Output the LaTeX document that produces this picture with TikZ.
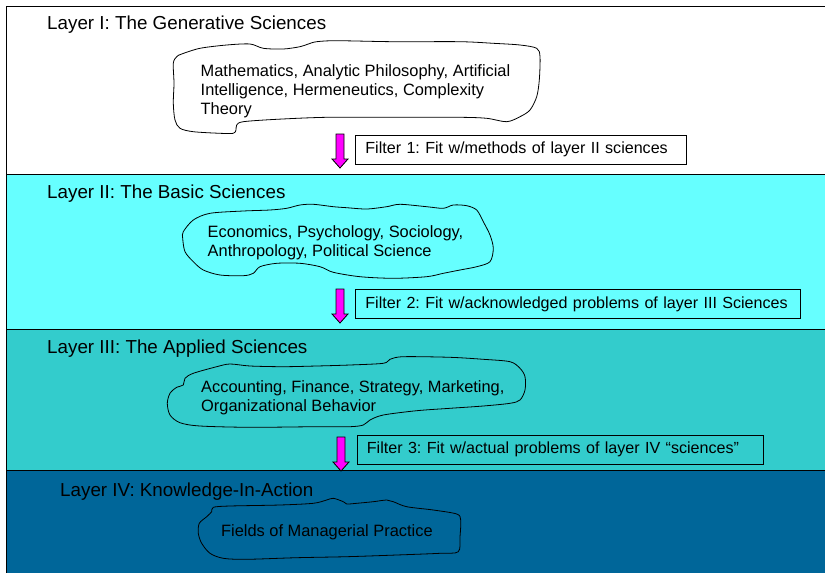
\documentclass[tikz,border=0pt]{standalone}
\usepackage{fontspec}
\setmainfont{Liberation Sans}
\frenchspacing
\definecolor{layerII}{HTML}{66FFFF}
\definecolor{layerIII}{HTML}{33CCCC}
\definecolor{layerIV}{HTML}{006699}
\definecolor{filtermag}{HTML}{FF00FF}
\begin{document}
\begin{tikzpicture}[x=1pt,y=-1pt,
  layer/.style={draw=black, line width=1pt},
  title/.style={anchor=base west, inner sep=0pt, font=\fontsize{18.8}{22}\selectfont},
  blobtext/.style={anchor=base west, inner sep=0pt, align=left, font=\fontsize{16.4}{19}\selectfont},
  filterbox/.style={draw=black, line width=0.8pt, anchor=north west, inner xsep=10pt, inner ysep=0pt,
    minimum height=29pt, align=left, font=\fontsize{16.1}{19}\selectfont},
  blob/.style={draw=black, line width=0.8pt, line join=round},
  pics/downarrow/.style={code={
    \filldraw[fill=filtermag, draw=black, line width=0.8pt, line join=miter]
      (-4,0) -- (4,0) -- (4,25) -- (8,25) -- (0,34) -- (-8,25) -- (-4,25) -- cycle;}}
]
\useasboundingbox (0,0) rectangle (825,573);
\clip (0,0) rectangle (825,573);

% the four layers, stacked top to bottom
\fill[white]    (6,6)   rectangle (840,174);
\fill[layerII]  (6,174) rectangle (840,329);
\fill[layerIII] (6,329) rectangle (840,470);
\fill[layerIV]  (6,470) rectangle (840,590);
\draw[layer] (6,590) -- (6,6) -- (840,6);
\draw[layer] (6,174) -- (840,174);
\draw[layer] (6,329) -- (840,329);
\draw[layer] (6,470) -- (840,470);

% layer titles
\node[title] (t1) at (47,29)  {Layer I: The Generative Sciences};
\node[title] (t2) at (47,198) {Layer II: The Basic Sciences};
\node[title] (t3) at (47,353) {Layer III: The Applied Sciences};
\node[title] (t4) at (60,496) {Layer IV: Knowledge-In-Action};

% hand-drawn outlines around each group of disciplines
\draw[blob] plot[smooth cycle, tension=0.5] coordinates {
  (176.7,56.7) (181.7,54) (200,48.3) (226.7,45) (250,44) (263.3,48.3) (283.3,49)
  (300,46.7) (308.3,44) (316.7,41.7) (336.7,40.7) (393.3,41.7) (460,41.7)
  (493.3,43.3) (520,45) (536.7,48.3) (540,56.7) (539.3,80) (536.7,96.7) (530,110)
  (520,116.7) (506.7,121.7) (486.7,118.3) (460,117.3) (393.3,117.3) (326.7,117.3)
  (276.7,119.3) (243.3,121.7) (236.7,125) (236,130) (233.3,133.3) (220,133.3)
  (193.3,131.7) (180,128.3) (175,120) (173.3,103.3) (174,83.3) (173.3,63.3)};
\draw[blob] plot[smooth cycle, tension=0.5] coordinates {
  (183.3,231.7) (193.3,220) (210,213.3) (243.3,211) (270,210) (286.7,208.3)
  (300,205) (313.3,204.3) (333.3,206.7) (346.7,207.7) (366.7,209) (386.7,206.7)
  (400,204.3) (426.7,206.7) (443.3,208.3) (453.3,205) (466.7,205.7) (476.7,210)
  (483.3,221.7) (490,235) (493.3,248.3) (490,261.7) (476.7,266.7) (460,270)
  (443.3,273.3) (426.7,276.7) (393.3,278.3) (360,276.7) (333.3,272.3) (320,266.7)
  (300,263.3) (276.7,263.3) (260,266.7) (253.3,273.3) (243.3,275.7) (220,275)
  (203.3,270) (193.3,261.7) (185,251.7) (182.7,238.3)};
\draw[blob] plot[smooth cycle, tension=0.5] coordinates {
  (183.3,385) (185,378.3) (193.3,373.3) (216.7,366.7) (230,364) (250,366)
  (283.3,366.7) (316.7,366) (350,365) (383.3,363.3) (390,359.3) (403.3,356.7)
  (450,357.3) (483.3,359.3) (510,361.7) (520,368.3) (525,376.7) (525,390)
  (520,400) (510,403.3) (483.3,406) (450,408.3) (416.7,410.7) (383.3,415)
  (370,420) (363.3,425) (350,426.7) (316.7,426.7) (250,427.3) (200,426)
  (180,422.7) (170,415) (167.3,403.3) (170,393.3) (176.7,387.3)};
\draw[blob] plot[smooth cycle, tension=0.5] coordinates {
  (213.3,507.3) (230,506) (280,505) (313.3,503.3) (326.7,500) (333.3,498.3)
  (343.3,501.7) (346.7,504) (356.7,503.3) (373.3,501.7) (386.7,500) (393.3,501.7)
  (406.7,506.7) (433.3,510) (456.7,514) (460.7,520) (460,536.7) (458.3,551.7)
  (440,553.3) (396.7,555) (346.7,556.7) (296.7,557.7) (246.7,559.3) (223.3,558.3)
  (210,553.3) (201.7,543.3) (198.3,533.3) (199.3,523.3) (206.7,516.7) (211.7,511.7)};

% disciplines in each layer (placed by the baseline of the last line)
\node[blobtext] (d1) at (200.5,114) {Mathematics, Analytic Philosophy, Artificial\\
  Intelligence, Hermeneutics, Complexity\\ Theory};
\node[blobtext] (d2) at (207.5,256) {Economics, Psychology, Sociology,\\
  Anthropology, Political Science};
\node[blobtext] (d3) at (201,411.5) {Accounting, Finance, Strategy, Marketing,\\
  Organizational Behavior};
\node[blobtext] (d4) at (221,536.5) {Fields of Managerial Practice};

% filters between the layers
\node[filterbox, fill=white,    text width=311pt] (f1) at (355,134.5)
  {\mbox{Filter 1: Fit w/methods of layer II sciences}};
\node[filterbox, fill=layerII,  text width=425pt] (f2) at (355,289)
  {\mbox{Filter 2: Fit w/acknowledged problems of layer III Sciences}};
\node[filterbox, fill=layerIII, text width=386pt] (f3) at (356.5,434.5)
  {\mbox{Filter 3: Fit w/actual problems of layer IV “sciences”}};

% filter arrows crossing each layer boundary
\pic at (340,134) {downarrow};
\pic at (340,289) {downarrow};
\pic at (341,437) {downarrow};
\end{tikzpicture}
\end{document}
